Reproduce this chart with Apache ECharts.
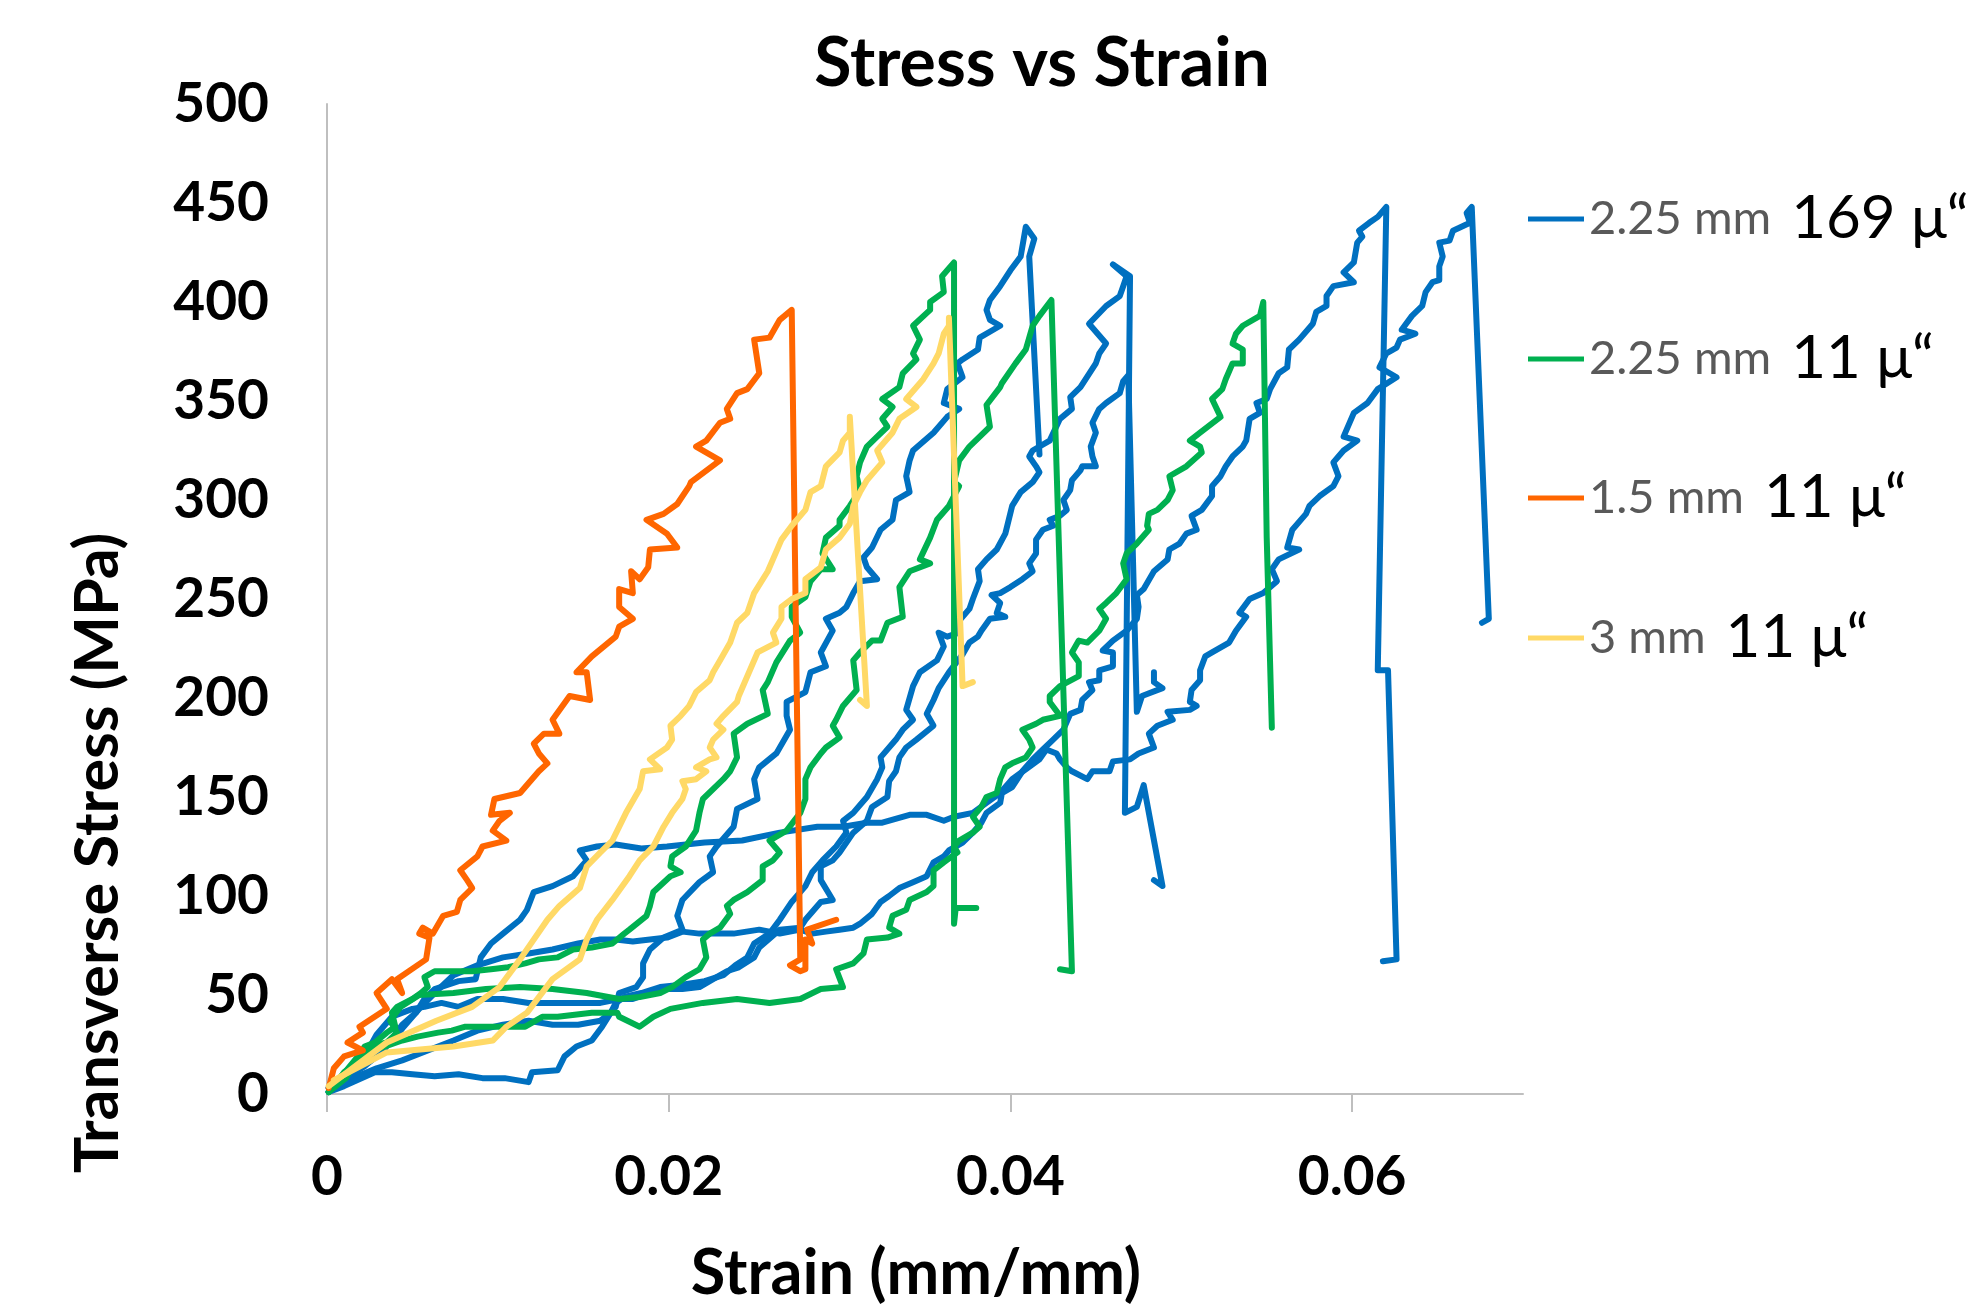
<!DOCTYPE html>
<html>
<head>
<meta charset="utf-8">
<title>Stress vs Strain</title>
<script src="https://cdn.jsdelivr.net/npm/echarts@6/dist/echarts.min.js"></script>
<style>
    html, body { margin: 0; padding: 0; background: #ffffff; }
    #chart { width: 1973px; height: 1312px; }
</style>
</head>
<body>
<div id="chart"></div>
<script>
'use strict';

// [strain (mm/mm), transverse stress (MPa)]
let blue225a = [[0.0001,3],[0.0015,8],[0.0029,13],[0.0044,17],[0.0059,22],[0.0074,27],[0.0088,32],[0.0103,35],[0.0118,37],[0.0132,35],[0.0147,35],[0.0160,37],[0.0166,41],[0.0169,44],[0.0171,51],[0.0181,54],[0.0185,59],[0.0185,66],[0.0189,73],[0.0197,79],[0.0208,83],[0.0205,90],[0.0208,98],[0.0218,107],[0.0226,112],[0.0224,120],[0.0228,125],[0.0238,135],[0.0240,144],[0.0252,149],[0.0250,159],[0.0253,165],[0.0263,172],[0.0271,184],[0.0269,191],[0.0269,198],[0.0280,203],[0.0283,213],[0.0292,216],[0.0289,223],[0.0296,234],[0.0292,240],[0.0300,243],[0.0304,246],[0.0308,253],[0.0312,259],[0.0322,260],[0.0316,266],[0.0314,271],[0.0319,276],[0.0324,285],[0.0331,290],[0.0333,300],[0.0341,304],[0.0339,312],[0.0341,320],[0.0343,325],[0.0355,334],[0.0363,342],[0.0370,346],[0.0361,349],[0.0363,356],[0.0372,362],[0.0369,369],[0.0372,371],[0.0381,376],[0.0382,382],[0.0394,388],[0.0388,391],[0.0386,396],[0.0388,401],[0.0394,408],[0.0400,416],[0.0406,423],[0.0409,438],[0.0414,432],[0.0411,423],[0.0417,323]];
let blue225b = [[0.0001,1],[0.0010,4],[0.0028,11],[0.0038,11],[0.0050,10],[0.0063,9],[0.0077,10],[0.0091,8],[0.0104,8],[0.0118,6],[0.0120,11],[0.0135,12],[0.0139,19],[0.0146,24],[0.0155,27],[0.0161,34],[0.0166,41],[0.0169,46],[0.0174,49],[0.0184,51],[0.0195,54],[0.0206,55],[0.0221,57],[0.0232,60],[0.0239,65],[0.0246,69],[0.0250,76],[0.0259,81],[0.0265,88],[0.0272,97],[0.0280,105],[0.0284,112],[0.0290,118],[0.0298,125],[0.0304,132],[0.0302,138],[0.0308,142],[0.0316,150],[0.0322,159],[0.0325,165],[0.0324,170],[0.0333,179],[0.0337,184],[0.0343,189],[0.0339,194],[0.0343,206],[0.0347,213],[0.0357,219],[0.0361,226],[0.0358,233],[0.0363,231],[0.0370,233],[0.0369,238],[0.0376,245],[0.0378,250],[0.0382,259],[0.0381,265],[0.0386,270],[0.0392,275],[0.0397,283],[0.0401,297],[0.0406,304],[0.0413,309],[0.0417,314],[0.0415,317],[0.0411,322],[0.0413,325],[0.0423,330],[0.0429,341],[0.0436,346],[0.0435,352],[0.0441,357],[0.0450,369],[0.0452,374],[0.0456,379],[0.0446,389],[0.0456,398],[0.0464,403],[0.0466,408],[0.0468,413],[0.0460,419],[0.0470,413],[0.0467,142],[0.0474,145],[0.0478,156],[0.0489,105],[0.0484,108]];
let blue225c = [[0.0001,1],[0.0011,8],[0.0022,19],[0.0029,30],[0.0038,39],[0.0050,43],[0.0057,44],[0.0067,46],[0.0077,44],[0.0088,48],[0.0103,48],[0.0118,46],[0.0132,46],[0.0147,46],[0.0160,46],[0.0171,48],[0.0179,48],[0.0189,51],[0.0199,53],[0.0208,53],[0.0218,54],[0.0226,58],[0.0234,62],[0.0241,64],[0.0250,69],[0.0253,74],[0.0265,83],[0.0277,84],[0.0280,88],[0.0289,97],[0.0296,98],[0.0289,108],[0.0289,115],[0.0296,118],[0.0300,122],[0.0308,132],[0.0312,135],[0.0316,138],[0.0319,145],[0.0328,150],[0.0329,158],[0.0333,163],[0.0335,170],[0.0339,175],[0.0345,179],[0.0355,186],[0.0351,192],[0.0355,199],[0.0358,205],[0.0364,213],[0.0372,222],[0.0376,228],[0.0381,231],[0.0383,234],[0.0388,240],[0.0397,241],[0.0392,243],[0.0394,248],[0.0389,252],[0.0394,253],[0.0400,256],[0.0407,260],[0.0413,264],[0.0411,268],[0.0415,273],[0.0415,280],[0.0419,285],[0.0425,287],[0.0423,290],[0.0429,292],[0.0433,295],[0.0431,300],[0.0435,305],[0.0436,310],[0.0441,315],[0.0442,317],[0.0450,317],[0.0448,322],[0.0447,327],[0.0450,334],[0.0448,339],[0.0452,346],[0.0456,349],[0.0464,354],[0.0466,360],[0.0469,363],[0.0474,193],[0.0477,201],[0.0489,205],[0.0484,208],[0.0484,213]];
let blue225d = [[0.0001,3],[0.0015,10],[0.0029,19],[0.0044,33],[0.0055,44],[0.0063,51],[0.0074,60],[0.0088,65],[0.0103,69],[0.0118,71],[0.0132,73],[0.0147,76],[0.0160,78],[0.0169,78],[0.0179,77],[0.0189,78],[0.0199,79],[0.0208,82],[0.0218,81],[0.0228,81],[0.0238,81],[0.0253,83],[0.0265,81],[0.0277,83],[0.0284,81],[0.0292,82],[0.0300,83],[0.0308,84],[0.0312,86],[0.0319,91],[0.0324,97],[0.0329,100],[0.0335,104],[0.0343,107],[0.0351,110],[0.0355,117],[0.0361,120],[0.0364,123],[0.0372,127],[0.0378,132],[0.0383,137],[0.0386,142],[0.0394,147],[0.0395,152],[0.0401,155],[0.0407,163],[0.0413,169],[0.0419,174],[0.0425,179],[0.0431,184],[0.0435,192],[0.0441,194],[0.0442,199],[0.0448,204],[0.0446,208],[0.0452,209],[0.0452,214],[0.0460,216],[0.0460,223],[0.0454,224],[0.0460,229],[0.0468,234],[0.0474,240],[0.0475,246],[0.0474,252],[0.0478,255],[0.0484,264],[0.0492,270],[0.0493,275],[0.0499,278],[0.0503,283],[0.0509,285],[0.0506,292],[0.0512,295],[0.0518,302],[0.0518,307],[0.0523,312],[0.0526,317],[0.0530,322],[0.0536,327],[0.0538,330],[0.0540,341],[0.0546,344],[0.0544,349],[0.0550,351],[0.0552,356],[0.0557,364],[0.0562,367],[0.0563,376],[0.0569,381],[0.0577,389],[0.0579,395],[0.0585,398],[0.0585,403],[0.0589,408],[0.0601,410],[0.0595,415],[0.0601,420],[0.0603,430],[0.0606,433],[0.0604,436],[0.0610,440],[0.0615,443],[0.0620,448],[0.0615,214],[0.0621,214],[0.0626,68],[0.0618,67]];
let blue225e = [[0.0001,1],[0.0011,8],[0.0022,14],[0.0033,22],[0.0044,35],[0.0052,41],[0.0057,48],[0.0063,53],[0.0077,57],[0.0087,58],[0.0090,69],[0.0096,76],[0.0103,81],[0.0113,88],[0.0117,93],[0.0121,102],[0.0132,105],[0.0144,110],[0.0152,118],[0.0148,123],[0.0158,125],[0.0169,126],[0.0184,124],[0.0199,125],[0.0221,127],[0.0243,128],[0.0265,132],[0.0287,135],[0.0302,135],[0.0316,137],[0.0325,137],[0.0341,141],[0.0351,141],[0.0361,138],[0.0367,140],[0.0378,142],[0.0386,147],[0.0394,152],[0.0401,159],[0.0409,164],[0.0417,169],[0.0421,174],[0.0427,172],[0.0429,169],[0.0433,165],[0.0436,163],[0.0445,159],[0.0448,163],[0.0458,163],[0.0460,168],[0.0470,169],[0.0475,172],[0.0484,175],[0.0481,182],[0.0486,186],[0.0489,187],[0.0495,189],[0.0492,193],[0.0505,194],[0.0509,196],[0.0505,198],[0.0506,204],[0.0511,209],[0.0511,214],[0.0514,221],[0.0518,223],[0.0528,228],[0.0532,234],[0.0538,241],[0.0534,243],[0.0540,250],[0.0548,253],[0.0556,259],[0.0553,265],[0.0557,270],[0.0569,275],[0.0562,276],[0.0565,285],[0.0573,293],[0.0575,297],[0.0581,302],[0.0589,307],[0.0592,312],[0.0589,319],[0.0595,325],[0.0603,330],[0.0595,332],[0.0601,344],[0.0609,349],[0.0615,356],[0.0626,362],[0.0616,367],[0.0620,374],[0.0626,377],[0.0628,381],[0.0637,384],[0.0629,386],[0.0635,393],[0.0641,398],[0.0643,405],[0.0647,410],[0.0651,411],[0.0651,418],[0.0653,423],[0.0651,430],[0.0657,431],[0.0659,436],[0.0669,440],[0.0667,445],[0.0670,448],[0.0680,240],[0.0676,238]];

let green225a = [[0.0001,1],[0.0011,8],[0.0022,24],[0.0028,26],[0.0035,31],[0.0040,34],[0.0038,41],[0.0041,44],[0.0050,48],[0.0055,51],[0.0059,54],[0.0057,59],[0.0063,62],[0.0077,62],[0.0085,62],[0.0096,63],[0.0106,64],[0.0116,66],[0.0124,68],[0.0135,69],[0.0144,73],[0.0155,74],[0.0167,76],[0.0174,81],[0.0177,83],[0.0187,90],[0.0189,95],[0.0191,102],[0.0201,110],[0.0207,112],[0.0201,115],[0.0202,120],[0.0210,125],[0.0216,133],[0.0218,142],[0.0220,149],[0.0232,159],[0.0236,163],[0.0240,170],[0.0238,182],[0.0246,187],[0.0258,192],[0.0255,204],[0.0258,208],[0.0263,218],[0.0271,229],[0.0277,233],[0.0272,241],[0.0272,246],[0.0280,251],[0.0283,259],[0.0289,265],[0.0296,265],[0.0290,273],[0.0292,281],[0.0300,287],[0.0300,290],[0.0306,297],[0.0312,305],[0.0310,312],[0.0312,319],[0.0316,327],[0.0322,332],[0.0328,337],[0.0325,341],[0.0331,347],[0.0325,351],[0.0335,357],[0.0337,364],[0.0345,371],[0.0343,374],[0.0347,381],[0.0343,388],[0.0353,396],[0.0353,400],[0.0361,405],[0.0360,413],[0.0367,420],[0.0367,86],[0.0368,94],[0.0380,94]];
let green225b = [[0.0001,1],[0.0021,22],[0.0025,24],[0.0035,26],[0.0041,31],[0.0037,37],[0.0043,44],[0.0054,50],[0.0074,51],[0.0093,53],[0.0113,54],[0.0132,53],[0.0152,51],[0.0171,48],[0.0183,49],[0.0195,51],[0.0202,54],[0.0210,59],[0.0218,63],[0.0222,69],[0.0220,78],[0.0224,81],[0.0230,84],[0.0236,91],[0.0234,95],[0.0238,98],[0.0246,102],[0.0255,108],[0.0255,115],[0.0261,118],[0.0265,122],[0.0259,128],[0.0269,133],[0.0277,142],[0.0280,149],[0.0280,159],[0.0283,165],[0.0289,172],[0.0292,175],[0.0300,180],[0.0296,186],[0.0298,189],[0.0302,196],[0.0310,204],[0.0308,219],[0.0312,223],[0.0319,229],[0.0324,229],[0.0328,238],[0.0337,241],[0.0335,256],[0.0341,264],[0.0353,268],[0.0347,270],[0.0353,281],[0.0357,290],[0.0364,297],[0.0370,307],[0.0367,309],[0.0370,320],[0.0376,327],[0.0388,337],[0.0386,348],[0.0394,357],[0.0395,359],[0.0403,369],[0.0409,376],[0.0413,388],[0.0417,393],[0.0424,401],[0.0436,62],[0.0429,63]];
let green225c = [[0.0004,4],[0.0010,11],[0.0018,16],[0.0024,21],[0.0034,24],[0.0044,27],[0.0053,29],[0.0065,31],[0.0073,32],[0.0081,34],[0.0093,34],[0.0104,34],[0.0116,34],[0.0126,39],[0.0135,39],[0.0155,41],[0.0170,41],[0.0171,39],[0.0183,34],[0.0191,39],[0.0201,43],[0.0220,46],[0.0240,48],[0.0259,46],[0.0277,48],[0.0289,53],[0.0302,54],[0.0298,63],[0.0308,66],[0.0314,71],[0.0316,78],[0.0328,79],[0.0335,81],[0.0329,84],[0.0331,90],[0.0339,93],[0.0341,98],[0.0351,102],[0.0355,105],[0.0355,113],[0.0361,117],[0.0369,122],[0.0367,125],[0.0370,128],[0.0378,132],[0.0382,135],[0.0378,140],[0.0383,145],[0.0386,150],[0.0392,152],[0.0394,159],[0.0397,165],[0.0401,167],[0.0409,170],[0.0413,175],[0.0411,179],[0.0407,184],[0.0415,187],[0.0419,189],[0.0429,191],[0.0423,198],[0.0423,201],[0.0429,206],[0.0440,211],[0.0440,218],[0.0436,223],[0.0440,229],[0.0445,228],[0.0452,234],[0.0456,240],[0.0452,245],[0.0456,248],[0.0462,253],[0.0468,260],[0.0466,268],[0.0468,273],[0.0474,278],[0.0481,285],[0.0480,287],[0.0481,293],[0.0486,295],[0.0492,300],[0.0495,305],[0.0493,312],[0.0503,317],[0.0512,324],[0.0511,327],[0.0505,330],[0.0511,334],[0.0523,342],[0.0518,351],[0.0524,356],[0.0526,361],[0.0530,369],[0.0536,369],[0.0536,376],[0.0530,379],[0.0532,384],[0.0536,388],[0.0546,393],[0.0548,400],[0.0550,281],[0.0553,185]];

let orange15 = [[0.0001,3],[0.0004,13],[0.0010,19],[0.0021,22],[0.0012,26],[0.0021,31],[0.0019,34],[0.0035,43],[0.0029,51],[0.0038,58],[0.0044,51],[0.0041,58],[0.0058,68],[0.0060,79],[0.0054,81],[0.0056,84],[0.0062,81],[0.0068,90],[0.0076,92],[0.0078,98],[0.0085,104],[0.0082,108],[0.0078,113],[0.0088,120],[0.0091,125],[0.0105,128],[0.0097,133],[0.0101,138],[0.0107,142],[0.0096,141],[0.0098,149],[0.0113,152],[0.0124,163],[0.0129,167],[0.0124,172],[0.0121,177],[0.0127,182],[0.0136,182],[0.0132,189],[0.0142,201],[0.0154,199],[0.0152,213],[0.0146,213],[0.0155,221],[0.0169,231],[0.0171,236],[0.0179,240],[0.0171,246],[0.0171,255],[0.0179,253],[0.0178,264],[0.0183,260],[0.0188,266],[0.0189,275],[0.0205,276],[0.0199,283],[0.0187,290],[0.0197,293],[0.0205,298],[0.0212,307],[0.0213,309],[0.0230,320],[0.0216,327],[0.0222,330],[0.0230,339],[0.0236,341],[0.0234,346],[0.0240,354],[0.0246,356],[0.0253,364],[0.0250,381],[0.0259,382],[0.0265,391],[0.0272,396],[0.0277,68],[0.0271,65],[0.0277,62],[0.0280,63],[0.0280,78],[0.0284,76],[0.0281,83],[0.0298,88]];

let yellow3a = [[0.0001,4],[0.0035,26],[0.0064,37],[0.0085,44],[0.0101,54],[0.0113,68],[0.0129,88],[0.0136,95],[0.0148,104],[0.0152,115],[0.0160,122],[0.0167,128],[0.0175,142],[0.0183,154],[0.0185,163],[0.0195,164],[0.0189,169],[0.0199,175],[0.0202,179],[0.0201,186],[0.0207,191],[0.0212,196],[0.0216,203],[0.0224,209],[0.0226,213],[0.0230,219],[0.0236,228],[0.0240,238],[0.0246,243],[0.0250,253],[0.0258,264],[0.0261,270],[0.0266,280],[0.0272,287],[0.0280,295],[0.0283,304],[0.0289,307],[0.0292,317],[0.0300,324],[0.0302,330],[0.0306,334],[0.0306,342],[0.0316,196],[0.0312,199]];
let yellow3b = [[0.0004,7],[0.0035,21],[0.0074,24],[0.0097,27],[0.0105,34],[0.0117,41],[0.0132,58],[0.0148,68],[0.0152,78],[0.0158,88],[0.0167,98],[0.0177,110],[0.0183,118],[0.0191,125],[0.0197,135],[0.0202,142],[0.0208,149],[0.0210,154],[0.0208,158],[0.0216,159],[0.0222,163],[0.0216,165],[0.0224,169],[0.0228,170],[0.0224,175],[0.0226,179],[0.0232,184],[0.0228,187],[0.0232,191],[0.0240,198],[0.0241,201],[0.0247,213],[0.0252,223],[0.0263,228],[0.0261,233],[0.0266,240],[0.0266,246],[0.0272,250],[0.0280,253],[0.0280,260],[0.0289,266],[0.0292,275],[0.0300,281],[0.0306,288],[0.0308,297],[0.0312,304],[0.0316,310],[0.0325,319],[0.0322,325],[0.0331,334],[0.0335,341],[0.0345,347],[0.0339,351],[0.0349,361],[0.0355,369],[0.0358,374],[0.0361,384],[0.0364,388],[0.0364,392],[0.0372,206],[0.0378,208]];

let xTicks = [0, 0.02, 0.04, 0.06];
let legendNames = ['2.25 mm 169 μ“', '2.25 mm 11 μ“', '1.5 mm 11 μ“', '3 mm 11 μ“'];
let legendSize = ['2.25 mm', '2.25 mm', '1.5 mm', '3 mm'];
let legendCoat = ['169 μ“', '11 μ“', '11 μ“', '11 μ“'];
let colors = ['#0070C0', '#00B050', '#FF6600', '#FFD966'];

// 每条曲线对应的图例组
let curves = [
    {group: 0, data: blue225a},
    {group: 0, data: blue225b},
    {group: 0, data: blue225c},
    {group: 0, data: blue225d},
    {group: 0, data: blue225e},
    {group: 1, data: green225a},
    {group: 1, data: green225b},
    {group: 1, data: green225c},
    {group: 2, data: orange15},
    {group: 3, data: yellow3a},
    {group: 3, data: yellow3b},
];

let font = 'Lato, "Open Sans", sans-serif';
let legendCenterY = [223, 363, 502, 642];

let series = [];
for (let i = 0; i < curves.length; i++) {
    let c = colors[curves[i].group];
    series.push({
        name: legendNames[curves[i].group],
        type: 'line',
        data: curves[i].data,
        symbol: 'none',
        showSymbol: false,
        animation: false,
        silent: true,
        color: c,
        itemStyle: {color: c},
        lineStyle: {color: c, width: 6, cap: 'round', join: 'round'},
    });
}

let legends = [];
for (let i = 0; i < legendNames.length; i++) {
    legends.push({
        data: [legendNames[i]],
        left: 1528,
        top: legendCenterY[i] - 34,
        padding: 0,
        icon: 'rect',
        itemWidth: 56,
        itemHeight: 5,
        selectedMode: false,
        formatter: function(name) {
            let k = legendNames.indexOf(name);
            return '{a|' + legendSize[k] + '}{b|' + legendCoat[k] + '}';
        },
        textStyle: {
            rich: {
                a: {fontFamily: font, fontSize: 47, color: '#595959', lineHeight: 68},
                b: {fontFamily: font, fontSize: 60, color: '#000000', lineHeight: 68, padding: [0, 0, 0, 20]},
            },
        },
    });
}

let myChart = echarts.init(document.getElementById('chart'), null, {renderer: 'canvas'});
let option = {
    backgroundColor: '#ffffff',
    animation: false,
    textStyle: {fontFamily: font},
    grid: {left: 327, right: 450, top: 104, bottom: 218, containLabel: false},
    xAxis: {
        type: 'value',
        min: 0,
        max: 0.07,
        axisLine: {show: true, lineStyle: {color: '#BFBFBF', width: 2}},
        axisTick: {show: true, length: 18, customValues: xTicks, lineStyle: {color: '#BFBFBF', width: 2}},
        axisLabel: {
            customValues: xTicks,
            fontFamily: font, fontSize: 55, fontWeight: 'bold', color: '#000000', margin: 56,
            formatter: function(v) { return String(v); },
        },
        splitLine: {show: false},
    },
    yAxis: {
        type: 'value',
        min: 0,
        max: 500,
        interval: 50,
        axisLine: {show: true, lineStyle: {color: '#BFBFBF', width: 2}},
        axisTick: {show: false},
        axisLabel: {fontFamily: font, fontSize: 55, fontWeight: 'bold', color: '#000000', margin: 58},
        splitLine: {show: false},
    },
    legend: legends,
    graphic: [
        {
            type: 'text', x: 1042, y: 64,
            style: {text: 'Stress vs Strain', fontFamily: font, fontSize: 68, fontWeight: 'bold', fill: '#000000', align: 'center', verticalAlign: 'middle'},
        },
        {
            type: 'text', x: 916, y: 1274,
            style: {text: 'Strain (mm/mm)', fontFamily: font, fontSize: 63, fontWeight: 'bold', fill: '#000000', align: 'center', verticalAlign: 'middle'},
        },
        {
            type: 'text', x: 98, y: 853, rotation: Math.PI / 2,
            style: {text: 'Transverse Stress (MPa)', fontFamily: font, fontSize: 61, fontWeight: 'bold', fill: '#000000', align: 'center', verticalAlign: 'middle'},
        },
    ],
    series: series,
};
myChart.setOption(option);
</script>
</body>
</html>
